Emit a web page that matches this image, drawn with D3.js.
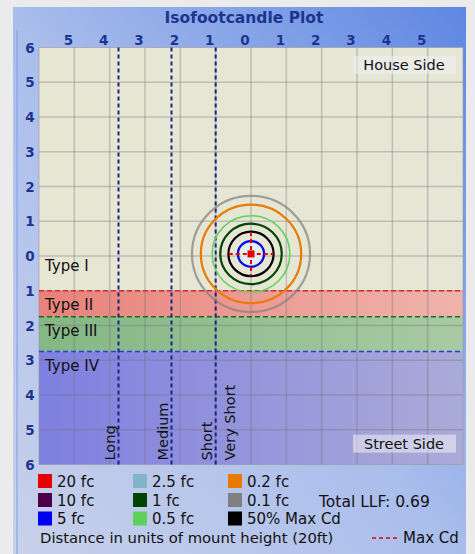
<!DOCTYPE html>
<html>
  <head>
    <meta charset="utf-8">
    <script src="https://d3js.org/d3.v7.min.js"></script>
    <style>
      body { margin: 0; background: #ebebeb; font-family: "DejaVu Sans", sans-serif; }
    </style>
  </head>
  <body>
    <div id="chart"></div>
    <script>
        // ---- data ----
        var xTicks = [-5, -4, -3, -2, -1, 0, 1, 2, 3, 4, 5]
        var yTicks = [6, 5, 4, 3, 2, 1, 0, -1, -2, -3, -4, -5, -6]
        // road types: name, from, to (distance toward street, mount heights)
        var typeNames = ['Type I', 'Type II', 'Type III', 'Type IV']
        var typeFrom = [0, 1, 1.75, 2.75]
        var typeTo = [1, 1.75, 2.75, 6]
        // throw limits (house side negative x)
        var throwNames = ['Long', 'Medium', 'Short']
        var throwPos = [-3.75, -2.25, -1]
        // isofootcandle contours (radius in mount heights)
        var contourLevels = ['0.1 fc', '0.2 fc', '0.5 fc', '1 fc', '50% Max Cd', '5 fc']
        var contourRadius = [1.67, 1.42, 1.1, 0.87, 0.64, 0.37]
        var center = [0, -0.06]
        var maxCdReach = 0.63
        // legend
        var legendLabels = ['20 fc', '10 fc', '5 fc', '2.5 fc', '1 fc', '0.5 fc', '0.2 fc', '0.1 fc', '50% Max Cd']
        var legendColors = ['#e60000', '#4d0047', '#0000f0', '#82b4c8', '#004400', '#5cd25c', '#e87a00', '#808080', '#000000']
        var totalLLF = 0.69

        var levelColor = {}
        legendLabels.forEach(function(l, i){ levelColor[l] = legendColors[i] })

        var W = 475, H = 554
        var svg = d3.select('#chart').append('svg').attr('width', W).attr('height', H)
        var defs = svg.append('defs')

        function grad(id, x1, y1, x2, y2, stops){
            var g = defs.append('linearGradient').attr('id', id)
                .attr('x1', x1).attr('y1', y1).attr('x2', x2).attr('y2', y2)
            stops.forEach(function(s){
                g.append('stop').attr('offset', s[0]).attr('stop-color', s[1])
            })
        }
        grad('panel', '0%', '100%', '100%', '0%', [[0, '#c9d1ea'], [0.5, '#a9bdec'], [1, '#5e87e2']])
        var bandStops = [
            [[0, '#e6e6d3'], [1, '#e6e6d6']],
            [[0, '#e8827a'], [1, '#efb4ac']],
            [[0, '#84b784'], [1, '#a9caa3']],
            [[0, '#7f7fe0'], [1, '#ababd8']]
        ]
        bandStops.forEach(function(s, i){ grad('band' + i, '0%', '0%', '100%', '0%', s) })

        // panel
        svg.append('rect').attr('x', 13).attr('y', 7).attr('width', 453).attr('height', 547)
            .attr('fill', 'url(#panel)')
        svg.append('line').attr('x1', 17).attr('x2', 17).attr('y1', 30).attr('y2', 554)
            .attr('stroke', '#7f9ce6').attr('stroke-width', 1)

        svg.append('text').text('Isofootcandle Plot')
            .attr('x', 244).attr('y', 23).attr('text-anchor', 'middle')
            .attr('font-weight', 'bold').attr('font-size', 15.5).attr('fill', '#1c3590')

        var x = d3.scaleLinear().domain([-6, 6]).range([39, 463])
        var y = d3.scaleLinear().domain([-6, 6]).range([47.5, 464.5]) // positive = street side (down)
        var ux = x(1) - x(0), uy = y(1) - y(0)

        var g = svg.append('g')

        // road type bands
        g.selectAll('.band').data(typeNames).enter().append('rect')
            .attr('x', x(-6)).attr('width', x(6) - x(-6))
            .attr('y', function(d, i){ return i == 0 ? y(-6) : y(typeFrom[i]) })
            .attr('height', function(d, i){ return y(typeTo[i]) - (i == 0 ? y(-6) : y(typeFrom[i])) })
            .attr('fill', function(d, i){ return 'url(#band' + i + ')' })

        // grid
        var gridX = d3.range(-5, 6)
        var gridY = d3.range(-5, 6)
        g.selectAll('.gx').data(gridX).enter().append('line')
            .attr('x1', function(d){ return x(d) }).attr('x2', function(d){ return x(d) })
            .attr('y1', y(-6)).attr('y2', y(6))
            .attr('stroke', 'rgba(110,110,120,0.34)').attr('stroke-width', 1.5)
        g.selectAll('.gy').data(gridY).enter().append('line')
            .attr('y1', function(d){ return y(d) }).attr('y2', function(d){ return y(d) })
            .attr('x1', x(-6)).attr('x2', x(6))
            .attr('stroke', 'rgba(110,110,120,0.34)').attr('stroke-width', 1.5)
        g.append('rect').attr('x', x(-6)).attr('y', y(-6))
            .attr('width', x(6) - x(-6)).attr('height', y(6) - y(-6))
            .attr('fill', 'none').attr('stroke', 'rgba(150,150,160,0.6)')

        // type boundaries
        var boundColors = ['#e02828', '#1f6a1f', '#2540e0']
        g.selectAll('.tb').data(typeFrom.slice(1)).enter().append('line')
            .attr('x1', x(-6)).attr('x2', x(6))
            .attr('y1', function(d){ return y(d) }).attr('y2', function(d){ return y(d) })
            .attr('stroke', function(d, i){ return boundColors[i] })
            .attr('stroke-width', 1.5).attr('stroke-dasharray', '5,3')

        g.selectAll('.tl').data(typeNames).enter().append('text')
            .text(function(d){ return d })
            .attr('x', 45)
            .attr('y', function(d, i){ return i == 0 ? y(0.42) : y(typeFrom[i]) + 19 })
            .attr('font-size', 15).attr('fill', '#111')

        // throw lines
        g.selectAll('.th').data(throwPos).enter().append('line')
            .attr('x1', function(d){ return x(d) }).attr('x2', function(d){ return x(d) })
            .attr('y1', y(-6)).attr('y2', y(6))
            .attr('stroke', '#1a2480').attr('stroke-width', 2).attr('stroke-dasharray', '4,3')
        var throwLabelX = throwPos.map(function(d){ return x(d) - 4 }).concat([x(-1) + 19])
        g.selectAll('.thl').data(throwNames.concat(['Very Short'])).enter().append('text')
            .text(function(d){ return d })
            .attr('transform', function(d, i){ return 'translate(' + throwLabelX[i] + ',' + (y(6) - 4) + ') rotate(-90)' })
            .attr('font-size', 14.5).attr('fill', '#111')

        // contours
        g.append('ellipse').attr('cx', x(center[0])).attr('cy', y(center[1]))
            .attr('rx', 0.3 * ux).attr('ry', 0.3 * uy).attr('fill', '#dff0f2')
        g.selectAll('.ct').data(contourLevels).enter().append('ellipse')
            .attr('cx', x(center[0])).attr('cy', y(center[1]))
            .attr('rx', function(d, i){ return contourRadius[i] * ux })
            .attr('ry', function(d, i){ return contourRadius[i] * uy })
            .attr('fill', 'none')
            .attr('stroke', function(d){ return levelColor[d] })
            .attr('stroke-opacity', function(d){ return d == '0.1 fc' ? 0.7 : 1 })
            .attr('stroke-width', function(d){ return d == '0.5 fc' ? 1.5 : 2.2 })

        // max cd cross
        g.append('line').attr('x1', x(center[0] - maxCdReach)).attr('x2', x(center[0] + maxCdReach))
            .attr('y1', y(center[1])).attr('y2', y(center[1]))
            .attr('stroke', '#e60000').attr('stroke-width', 2).attr('stroke-dasharray', '4,3')
        g.append('line').attr('y1', y(center[1] - maxCdReach)).attr('y2', y(center[1] + maxCdReach))
            .attr('x1', x(center[0])).attr('x2', x(center[0]))
            .attr('stroke', '#e60000').attr('stroke-width', 2).attr('stroke-dasharray', '4,3')
        g.append('rect').attr('x', x(center[0]) - 3.5).attr('y', y(center[1]) - 3.5)
            .attr('width', 7).attr('height', 7).attr('fill', levelColor['20 fc'])

        // side labels
        var sides = [['House Side', y(-5.5)], ['Street Side', y(5.4)]]
        sides.forEach(function(s){
            svg.append('rect').attr('x', 353).attr('y', s[1] - 9).attr('width', 103).attr('height', 18)
                .attr('fill', 'rgba(240,240,245,0.55)')
            svg.append('text').text(s[0]).attr('x', 404).attr('y', s[1] + 5)
                .attr('text-anchor', 'middle').attr('font-size', 14.5).attr('fill', '#111')
        })

        // axis labels
        svg.selectAll('.xt').data(xTicks).enter().append('text')
            .text(function(d){ return Math.abs(d) })
            .attr('x', function(d){ return x(d) - 6 }).attr('y', 45)
            .attr('text-anchor', 'middle').attr('font-weight', 'bold').attr('font-size', 13.5)
            .attr('fill', '#1c3590')
        svg.selectAll('.yt').data(yTicks).enter().append('text')
            .text(function(d){ return Math.abs(d) })
            .attr('x', 30).attr('y', function(d){ return y(-d) + 5 })
            .attr('text-anchor', 'middle').attr('font-weight', 'bold').attr('font-size', 13.5)
            .attr('fill', '#1c3590')

        // legend
        var lg = svg.append('g')
        var colX = [38, 133, 228], rowY = [481, 500, 518.5]
        var items = lg.selectAll('.li').data(legendLabels).enter().append('g')
            .attr('transform', function(d, i){
                return 'translate(' + colX[Math.floor(i / 3)] + ',' + rowY[i % 3] + ')' })
        items.append('rect').attr('x', 0).attr('y', -7).attr('width', 14).attr('height', 14)
            .attr('fill', function(d, i){ return legendColors[i] })
        items.append('text').text(function(d){ return d })
            .attr('x', 19).attr('y', 5.5).attr('font-size', 15).attr('fill', '#111')

        svg.append('text').text('Total LLF: ' + totalLLF).attr('x', 319).attr('y', 507)
            .attr('font-size', 15.5).attr('fill', '#111')
        svg.append('text').text('Distance in units of mount height (20ft)').attr('x', 40).attr('y', 543)
            .attr('font-size', 14.8).attr('fill', '#111')
        svg.append('line').attr('x1', 372).attr('x2', 397).attr('y1', 538).attr('y2', 538)
            .attr('stroke', '#e60000').attr('stroke-width', 1.5).attr('stroke-dasharray', '4,3')
        svg.append('text').text('Max Cd').attr('x', 403).attr('y', 543)
            .attr('font-size', 15).attr('fill', '#111')
    </script>
  </body>
</html>
